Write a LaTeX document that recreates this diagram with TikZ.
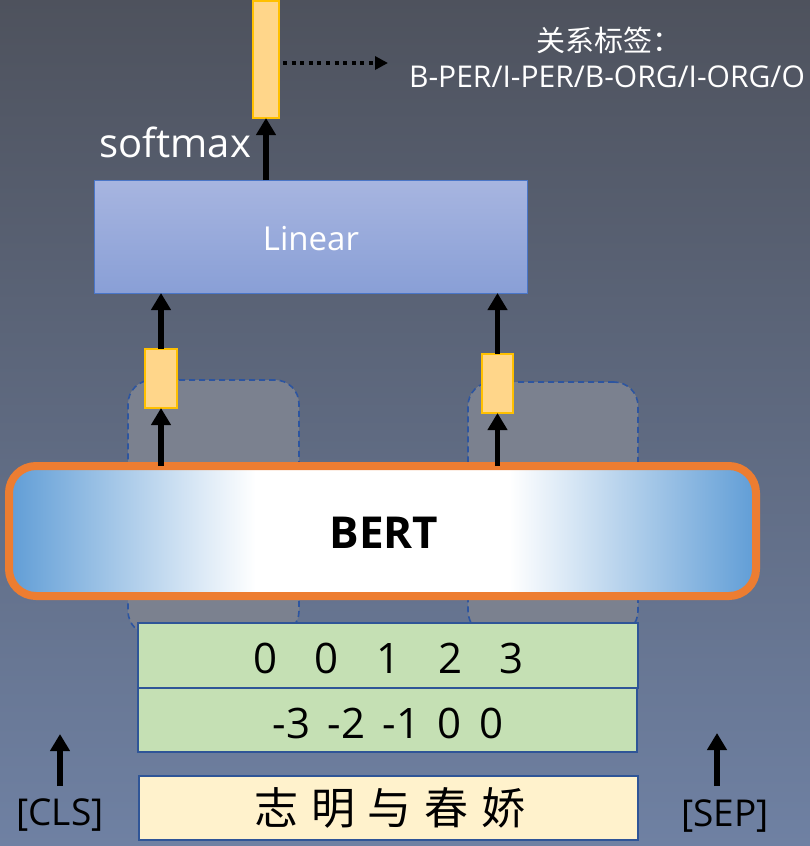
\documentclass[tikz,border=0pt]{standalone}
\usepackage{fontspec}
\setmainfont{Open Sans}
\newfontfamily\cjk[WordSpace=1.3]{Noto Sans CJK SC}
\usetikzlibrary{arrows.meta}
\newcommand{\widespaces}{\spaceskip 17.5pt\relax}
\definecolor{bgtop}{RGB}{78,82,93}
\definecolor{bgbot}{RGB}{111,129,163}
\definecolor{lintop}{RGB}{167,181,224}
\definecolor{linbot}{RGB}{137,159,214}
\definecolor{linborder}{RGB}{74,118,200}
\definecolor{barfill}{RGB}{255,214,138}
\definecolor{barborder}{RGB}{255,192,0}
\definecolor{dashfill}{RGB}{123,129,143}
\definecolor{dashline}{RGB}{45,85,160}
\definecolor{bertorange}{RGB}{237,125,49}
\definecolor{bertblue}{RGB}{96,157,214}
\definecolor{greenfill}{RGB}{197,224,180}
\definecolor{creamfill}{RGB}{255,242,204}
\definecolor{boxborder}{RGB}{47,85,151}
\pgfdeclarehorizontalshading{bertshade}{100bp}{color(0bp)=(bertblue); color(25bp)=(bertblue); color(41.5bp)=(white); color(58.5bp)=(white); color(75bp)=(bertblue); color(100bp)=(bertblue)}
\tikzset{
  box/.style={rectangle, inner sep=0pt, outer sep=0pt},
  bar/.style={box, draw=barborder, fill=barfill, line width=1.2pt},
  dashbox/.style={box, draw=dashline, fill=dashfill, line width=1.6pt, dash pattern=on 6pt off 4pt, rounded corners=24pt},
  rowbox/.style={box, draw=boxborder, line width=1.5pt},
  arr/.style={line width=5.5pt, -{Triangle[width=19pt,length=17pt]}},
  dotarr/.style={line width=4pt, dash pattern=on 4pt off 4.6pt, -{Triangle[width=13pt,length=13pt]}},
  txt/.style={inner sep=0pt, outer sep=0pt, anchor=base}
}
\begin{document}
\begin{tikzpicture}[x=1pt,y=-1pt]
% background
\shade[top color=bgtop, bottom color=bgbot] (0,0) rectangle (810,846);
\useasboundingbox (0,0) rectangle (810,846);
% dashed rounded boxes behind BERT
\node[dashbox, minimum width=171pt, minimum height=255pt] (dl) at (213.5,507.5) {};
\node[dashbox, minimum width=170pt, minimum height=253pt] (dr) at (553,508.5) {};
% BERT
\node[box, draw=bertorange, line width=8pt, rounded corners=27pt, shade, shading=bertshade, minimum width=747pt, minimum height=130pt] (bert) at (382.5,531) {};
\node[txt, font=\bfseries\fontsize{44}{44}\selectfont] (berttxt) at (384,548) {BERT};
% rows
\node[rowbox, fill=greenfill, minimum width=500pt, minimum height=65pt] (g1) at (388,655.5) {};
\node[rowbox, fill=greenfill, minimum width=499pt, minimum height=64pt] (g2) at (387.5,720) {};
\node[rowbox, fill=creamfill, minimum width=499pt, minimum height=64pt] (cream) at (388.5,808) {};
\node[txt, font=\fontsize{42}{42}\selectfont] (g1txt) at (388.5,673) {0\hspace{37.5pt}0\hspace{37.5pt}1\hspace{37.5pt}2\hspace{37.5pt}3};
\node[txt, font=\fontsize{42}{42}\selectfont\widespaces] (g2txt) at (388,738) {-3 -2 -1 0 0};
\node[txt, font=\cjk\fontsize{44}{44}\selectfont] (creamtxt) at (390,824) {志 明 与 春 娇};
% Linear
\node[box, draw=linborder, line width=1pt, top color=lintop, bottom color=linbot, minimum width=433pt, minimum height=113pt] (lin) at (310.5,236.5) {};
\node[txt, text=white, font=\fontsize{33}{33}\selectfont] (lintxt) at (311,250) {Linear};
% small bars
\node[bar, minimum width=32pt, minimum height=59pt] (sbl) at (161,378.5) {};
\node[bar, minimum width=31pt, minimum height=59pt] (sbr) at (497.5,383.5) {};
\node[bar, minimum width=26pt, minimum height=117pt] (topbar) at (266,59.5) {};
% arrows
\draw[arr] (sbl.south |- bert.north) -- (sbl.south);
\draw[arr] (sbr.south |- bert.north) -- (sbr.south);
\draw[arr] (sbl.north) -- (sbl.north |- lin.south);
\draw[arr] (sbr.north) -- (sbr.north |- lin.south);
\draw[arr] (topbar.south |- lin.north) -- (topbar.south);
\coordinate (dotend) at (388,63);
\draw[dotarr] (topbar.east |- dotend) ++(4,0) -- (dotend);
% labels
\node[txt, anchor=base east, text=white, font=\fontsize{40}{40}\selectfont] (softmax) at (251,157) {softmax};
\node[txt, text=white, font=\cjk\fontsize{29}{29}\selectfont] (lbl1) at (609,51) {关系标签：};
\node[txt, text=white, font=\fontsize{30}{30}\selectfont] (lbl2) at (607,87) {B-PER/I-PER/B-ORG/I-ORG/O};
% CLS / SEP
\node[txt, font=\fontsize{37}{37}\selectfont] (cls) at (60,825) {[CLS]};
\node[txt, font=\fontsize{37}{37}\selectfont] (sep) at (725,826) {[SEP]};
\coordinate (clstip) at (60,734);
\coordinate (septip) at (717,733);
\draw[arr] (clstip |- 0,786) -- (clstip);
\draw[arr] (septip |- 0,786) -- (septip);
\end{tikzpicture}
\end{document}
